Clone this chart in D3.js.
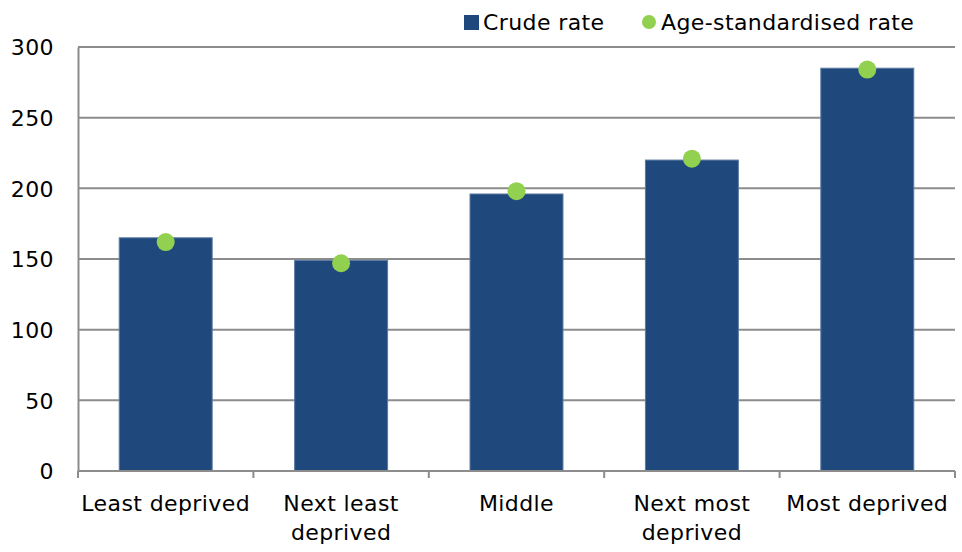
<!DOCTYPE html>
<html>
<head>
<meta charset="utf-8">
<script src="https://cdn.jsdelivr.net/npm/d3@7"></script>
<style>
  body { margin: 0; background: #fff; }
  svg text { font-family: "DejaVu Sans", Verdana, sans-serif; fill: #000; font-size: 22px; letter-spacing: 0.4px; }
</style>
</head>
<body>
<svg id="chart"></svg>
<script>
var categories = [["Least deprived"], ["Next least", "deprived"], ["Middle"], ["Next most", "deprived"], ["Most deprived"]];
var crudeRate = [165, 149, 196, 220, 285];
var ageStdRate = [162, 147, 198, 221, 284];
var yTicks = [0, 50, 100, 150, 200, 250, 300];

var margin = { top: 47, right: 7, bottom: 81, left: 78 },
    width = 962 - margin.left - margin.right,
    height = 552 - margin.top - margin.bottom;

var svg = d3.select("#chart").attr("width", 962).attr("height", 552);
var chart = svg.append("g")
    .attr("transform", "translate(" + margin.left + "," + margin.top + ")");

var x = d3.scaleBand().domain(d3.range(categories.length)).range([0, width]).paddingInner(0.47).paddingOuter(0.235);
var xEdge = d3.scaleLinear().domain([0, categories.length]).range([0, width]);
var y = d3.scaleLinear().domain([0, 300]).range([height, 0]);

// gridlines
chart.selectAll("line.grid")
    .data(yTicks.slice(1))
    .enter().append("line")
    .attr("class", "grid")
    .attr("x1", 0).attr("x2", width)
    .attr("y1", function(d) { return y(d); })
    .attr("y2", function(d) { return y(d); })
    .attr("stroke", "#8c8c8c").attr("stroke-width", 2);

// bars
chart.selectAll("rect.bar")
    .data(crudeRate)
    .enter().append("rect")
    .attr("class", "bar")
    .attr("x", function(d, i) { return x(i); })
    .attr("width", x.bandwidth())
    .attr("y", function(d) { return y(d); })
    .attr("height", function(d) { return height - y(d); })
    .attr("fill", "#1f497d")
    .attr("stroke", "#5b7aa3").attr("stroke-width", 1);

// dots
chart.selectAll("circle.dot")
    .data(ageStdRate)
    .enter().append("circle")
    .attr("class", "dot")
    .attr("cx", function(d, i) { return x(i) + x.bandwidth() / 2; })
    .attr("cy", function(d) { return y(d); })
    .attr("r", 9)
    .attr("fill", "#92d050");

// y axis
var yAxis = d3.axisLeft(y).tickValues(yTicks).tickSize(0).tickPadding(24);
var gy = chart.append("g").call(yAxis);
gy.attr("font-size", null).attr("font-family", null);
gy.select(".domain").attr("stroke", "#8c8c8c").attr("stroke-width", 2);
gy.selectAll("text").attr("dy", "0.36em");

// x axis
var gx = chart.append("g").attr("transform", "translate(0," + height + ")");
gx.append("line").attr("x1", 0).attr("x2", width).attr("stroke", "#8c8c8c").attr("stroke-width", 2);
gx.selectAll("line.tick")
    .data(d3.range(categories.length + 1))
    .enter().append("line")
    .attr("class", "tick")
    .attr("x1", function(d) { return xEdge(d); })
    .attr("x2", function(d) { return xEdge(d); })
    .attr("y1", 0).attr("y2", 7)
    .attr("stroke", "#8c8c8c").attr("stroke-width", 2);
var labels = gx.selectAll("text.cat")
    .data(categories)
    .enter().append("text")
    .attr("class", "cat")
    .attr("x", function(d, i) { return x(i) + x.bandwidth() / 2; })
    .attr("y", 40)
    .attr("text-anchor", "middle");
labels.selectAll("tspan")
    .data(function(d) { return d; })
    .enter().append("tspan")
    .attr("x", function() { return d3.select(this.parentNode).attr("x"); })
    .attr("dy", function(d, i) { return i === 0 ? 0 : 29; })
    .text(function(d) { return d; });

// legend
var legend = svg.append("g").attr("transform", "translate(464,22)");
legend.append("rect").attr("x", 0).attr("y", -7).attr("width", 15).attr("height", 15).attr("fill", "#1f497d");
legend.append("text").attr("x", 19).attr("y", 0).attr("dy", "0.36em").text("Crude rate");
legend.append("circle").attr("cx", 185).attr("cy", 0).attr("r", 7).attr("fill", "#92d050");
legend.append("text").attr("x", 197).attr("y", 0).attr("dy", "0.36em").text("Age-standardised rate");
</script>
</body>
</html>
